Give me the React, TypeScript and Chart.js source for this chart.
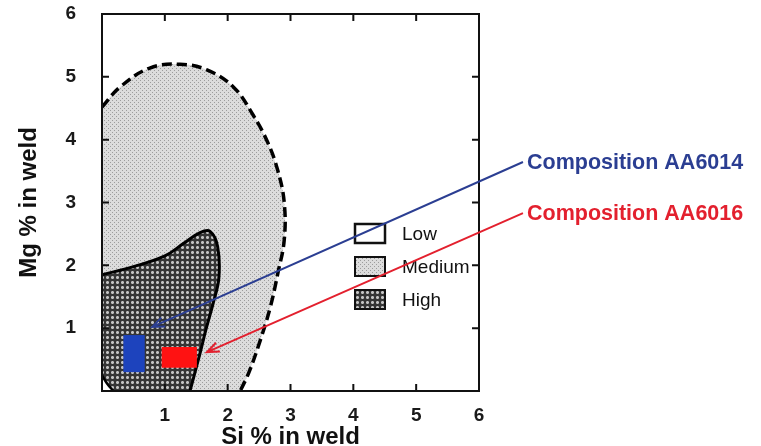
import React, { useEffect, useRef } from 'react';
import { Chart, registerables } from 'chart.js';
Chart.register(...registerables);

// ---- data (Si % on x, Mg % on y) ----
const mediumSi = [0, 0.29, 0.76, 1.24, 1.67, 2.09, 2.4, 2.64, 2.8, 2.9, 2.9, 2.8, 2.68, 2.52, 2.34, 2.2];
const mediumMg = [4.52, 4.84, 5.14, 5.2, 5.11, 4.84, 4.4, 3.95, 3.5, 3.0, 2.4, 1.88, 1.34, 0.81, 0.3, 0];
const highSi = [0, 0.5, 1.0, 1.3, 1.56, 1.72, 1.84, 1.86, 1.77, 1.66, 1.56, 1.46, 1.4];
const highMg = [1.85, 1.98, 2.15, 2.35, 2.52, 2.54, 2.3, 1.8, 1.4, 1.0, 0.6, 0.22, 0];
const lowSi = [0, 0.08, 0.18];
const lowMg = [0.25, 0.12, 0];
const xTicks = [1, 2, 3, 4, 5, 6];
const yTicks = [1, 2, 3, 4, 5, 6];
const minorTickValues = [1, 2, 3, 4, 5];
const legendLabels = ['Low', 'Medium', 'High'];
const compLabels = ['Composition AA6014', 'Composition AA6016'];
const compBoxSi = [[0.34, 0.68], [0.95, 1.51]];
const compBoxMg = [[0.3, 0.89], [0.37, 0.7]];
const arrowFromSi = [6.7, 6.7];
const arrowFromMg = [3.645, 2.83];
const arrowToSi = [0.8, 1.67];
const arrowToMg = [1.02, 0.62];
const compColors = ['#1d43bd', '#ff1212'];
const arrowColors = ['#2b3e92', '#e3202e'];

const FONT = '"Liberation Sans", Arial, sans-serif';

function makePattern(ctx: CanvasRenderingContext2D, kind: 'medium' | 'high') {
  const c = document.createElement('canvas');
  if (kind === 'medium') {
    c.width = 4; c.height = 4;
    const g = c.getContext('2d')!;
    g.fillStyle = '#dcdcdc'; g.fillRect(0, 0, 4, 4);
    g.fillStyle = '#9c9c9c'; g.fillRect(0, 0, 1, 1); g.fillRect(2, 2, 1, 1);
  } else {
    c.width = 5; c.height = 5;
    const g = c.getContext('2d')!;
    g.fillStyle = '#353535'; g.fillRect(0, 0, 5, 5);
    g.fillStyle = '#8a8a8a'; g.fillRect(1, 1, 3, 3);
    g.fillStyle = '#c4c4c4'; g.fillRect(2, 1, 1, 3); g.fillRect(1, 2, 3, 1);
  }
  return ctx.createPattern(c, 'repeat')!;
}

const toPts = (xs: number[], ys: number[]) => xs.map((x, i) => ({ x, y: ys[i] }));

export default function App() {
  const ref = useRef<HTMLCanvasElement>(null);
  useEffect(() => {
    const canvas = ref.current!;
    const ctx = canvas.getContext('2d')!;
    const medPat = makePattern(ctx, 'medium');
    const highPat = makePattern(ctx, 'high');

    const regionPlugin = {
      id: 'regions',
      beforeDatasetsDraw(chart: any) {
        const c = chart.ctx as CanvasRenderingContext2D;
        const area = chart.chartArea;
        const xs = chart.scales.x, ys = chart.scales.y;
        const fills: [number, any][] = [[0, medPat], [1, highPat], [2, '#ffffff']];
        for (const [idx, style] of fills) {
          const meta = chart.getDatasetMeta(idx);
          const line = meta.dataset;
          if (line && line.updateControlPoints) line.updateControlPoints(area, 'x');
          c.save();
          c.beginPath();
          c.rect(area.left, area.top, area.right - area.left, area.bottom - area.top);
          c.clip();
          c.beginPath();
          if (line && typeof line.path === 'function') {
            line.path(c);
          } else {
            meta.data.forEach((p: any, i: number) => (i ? c.lineTo(p.x, p.y) : c.moveTo(p.x, p.y)));
          }
          c.lineTo(xs.getPixelForValue(0), ys.getPixelForValue(0));
          c.closePath();
          c.fillStyle = style;
          c.fill();
          c.restore();
        }
      },
      afterDatasetsDraw(chart: any) {
        const c = chart.ctx as CanvasRenderingContext2D;
        const area = chart.chartArea;
        const xs = chart.scales.x, ys = chart.scales.y;
        compBoxSi.forEach((sx, i) => {
          const x0 = xs.getPixelForValue(sx[0]), x1 = xs.getPixelForValue(sx[1]);
          const y0 = ys.getPixelForValue(compBoxMg[i][1]), y1 = ys.getPixelForValue(compBoxMg[i][0]);
          c.fillStyle = compColors[i];
          c.fillRect(x0, y0, x1 - x0, y1 - y0);
        });
        c.save();
        c.strokeStyle = '#111';
        c.lineWidth = 2;
        c.strokeRect(area.left, area.top, area.right - area.left, area.bottom - area.top);
        const tl = 7;
        c.beginPath();
        minorTickValues.forEach((v) => {
          const px = xs.getPixelForValue(v);
          c.moveTo(px, area.bottom); c.lineTo(px, area.bottom - tl);
          c.moveTo(px, area.top); c.lineTo(px, area.top + tl);
          const py = ys.getPixelForValue(v);
          c.moveTo(area.left, py); c.lineTo(area.left + tl, py);
          c.moveTo(area.right, py); c.lineTo(area.right - tl, py);
        });
        c.stroke();
        const lx = area.left + 253;
        const tops = [area.top + 210, area.top + 243, area.top + 276];
        const fillsL = ['#ffffff', medPat, highPat];
        tops.forEach((t, i) => {
          c.fillStyle = fillsL[i] as any;
          c.fillRect(lx, t, 30, 19);
          c.lineWidth = i === 0 ? 2.5 : 2;
          c.strokeStyle = '#111';
          c.strokeRect(lx, t, 30, 19);
          c.fillStyle = '#111';
          c.font = `19px ${FONT}`;
          c.textBaseline = 'middle';
          c.textAlign = 'left';
          c.fillText(legendLabels[i], lx + 47, t + 11);
        });
        c.restore();
      },
      afterDraw(chart: any) {
        const c = chart.ctx as CanvasRenderingContext2D;
        const xs = chart.scales.x, ys = chart.scales.y;
        c.save();
        arrowFromSi.forEach((fx, i) => {
          const x0 = xs.getPixelForValue(fx), y0 = ys.getPixelForValue(arrowFromMg[i]);
          const x1 = xs.getPixelForValue(arrowToSi[i]), y1 = ys.getPixelForValue(arrowToMg[i]);
          c.strokeStyle = arrowColors[i];
          c.lineWidth = 2;
          c.beginPath();
          c.moveTo(x0, y0); c.lineTo(x1, y1);
          const ang = Math.atan2(y0 - y1, x0 - x1);
          const hl = 13, spread = 0.38;
          c.moveTo(x1 + hl * Math.cos(ang + spread), y1 + hl * Math.sin(ang + spread));
          c.lineTo(x1, y1);
          c.lineTo(x1 + hl * Math.cos(ang - spread), y1 + hl * Math.sin(ang - spread));
          c.stroke();
          c.fillStyle = arrowColors[i];
          c.font = `bold 21.5px ${FONT}`;
          c.textBaseline = 'middle';
          c.textAlign = 'left';
          c.fillText(compLabels[i], x0 + 4, y0 + 1);
        });
        c.restore();
      },
    };

    const chart = new Chart(ctx, {
      type: 'scatter',
      data: {
        datasets: [
          { label: 'Medium', data: toPts(mediumSi, mediumMg), showLine: true, borderColor: '#000', borderWidth: 3.5, borderDash: [10, 5], tension: 0.4, pointRadius: 0, fill: false },
          { label: 'High', data: toPts(highSi, highMg), showLine: true, borderColor: '#000', borderWidth: 3, tension: 0.4, pointRadius: 0, fill: false },
          { label: 'Low', data: toPts(lowSi, lowMg), showLine: true, borderColor: '#000', borderWidth: 2.5, tension: 0.4, pointRadius: 0, fill: false },
        ],
      },
      options: {
        responsive: false,
        maintainAspectRatio: false,
        animation: false,
        layout: { padding: { left: 0, top: 14, right: 282, bottom: 0 } },
        plugins: { legend: { display: false }, tooltip: { enabled: false } },
        scales: {
          x: {
            type: 'linear', min: 0, max: 6,
            afterFit(s: any) { s.height = 55; s.paddingLeft = 0; s.paddingRight = 0; },
            afterBuildTicks(s: any) { s.ticks = [0, ...xTicks].map((v) => ({ value: v })); },
            grid: { display: false }, border: { display: false },
            ticks: { padding: 5, maxRotation: 0, autoSkip: false, color: '#1a1a1a', font: { family: FONT, size: 19, weight: 'bold' }, callback: (v: any) => (v === 0 ? '' : String(v)) },
            title: { display: true, text: 'Si % in weld', color: '#111', padding: 0, font: { family: FONT, size: 24, weight: 'bold', lineHeight: 0.75 } },
          },
          y: {
            type: 'linear', min: 0, max: 6,
            afterFit(s: any) { s.width = 102; s.paddingTop = 0; s.paddingBottom = 0; },
            afterBuildTicks(s: any) { s.ticks = [0, ...yTicks].map((v) => ({ value: v })); },
            grid: { display: false }, border: { display: false },
            ticks: { padding: 18, autoSkip: false, color: '#1a1a1a', font: { family: FONT, size: 19, weight: 'bold' }, callback: (v: any) => (v === 0 ? '' : String(v)) },
            title: { display: true, text: 'Mg % in weld', color: '#111', padding: { top: 15, bottom: 0 }, font: { family: FONT, size: 24, weight: 'bold' } },
          },
        },
      } as any,
      plugins: [regionPlugin],
    });
    return () => chart.destroy();
  }, []);
  return (
    <div style={{ position: 'fixed', left: 0, top: 0, width: 761, height: 446, background: '#fff' }}>
      <canvas ref={ref} width={761} height={446} style={{ display: 'block' }} />
    </div>
  );
}
